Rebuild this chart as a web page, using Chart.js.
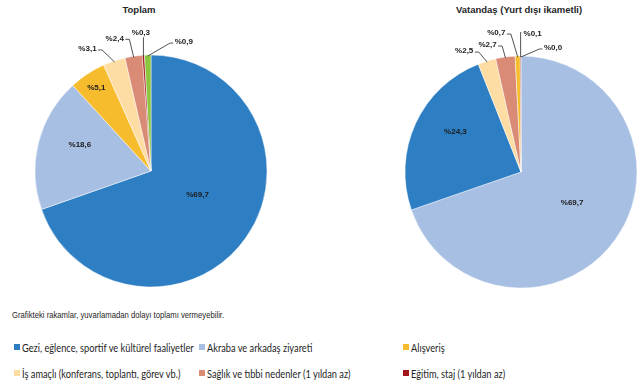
<!DOCTYPE html>
<html><head><meta charset="utf-8">
<script src="https://cdn.jsdelivr.net/npm/chart.js@4"></script>
<style>
html,body{margin:0;padding:0;background:#fff;}
body{width:641px;height:380px;overflow:hidden;position:relative;font-family:"Liberation Sans",Arial,sans-serif;}
canvas{position:absolute;}
.title{position:absolute;font-weight:bold;font-size:9.5px;color:#262626;transform:translateX(-50%);white-space:nowrap;line-height:1;}
.note{position:absolute;left:12px;top:311px;font-size:9px;color:#262626;white-space:nowrap;line-height:1;transform:scaleX(0.855);transform-origin:0 0;}
.leg{position:absolute;white-space:nowrap;line-height:1;}
.leg i{position:absolute;left:-8px;top:50%;width:6px;height:6px;margin-top:-3px;}
.leg span{display:inline-block;font-family:Lato,"Open Sans",sans-serif;font-size:10.5px;color:#262626;transform:scaleX(0.88);transform-origin:0 50%;}
</style>
</head><body>
<div class="title" style="left:139px;top:5px;">Toplam</div>
<div class="title" style="left:519px;top:5px;">Vatandaş (Yurt dışı ikametli)</div>
<canvas id="c1" width="310" height="300" style="left:0;top:0;"></canvas>
<canvas id="c2" width="321" height="300" style="left:320px;top:0;"></canvas>
<div class="note">Grafikteki rakamlar, yuvarlamadan dolayı toplamı vermeyebilir.</div>
<div id="legend"></div>
<script>
const categories = [
  "Gezi, eğlence, sportif ve kültürel faaliyetler",
  "Akraba ve arkadaş ziyareti",
  "Alışveriş",
  "İş amaçlı (konferans, toplantı, görev vb.)",
  "Sağlık ve tıbbi nedenler (1 yıldan az)",
  "Eğitim, staj (1 yıldan az)",
  "Diğer"
];
const toplamOrder = [0, 1, 2, 3, 4, 5, 6];
const toplamValues = [69.7, 18.6, 5.1, 3.1, 2.4, 0.3, 0.9];
const vatandasOrder = [1, 0, 3, 4, 2, 5, 6];
const vatandasValues = [69.7, 24.3, 2.5, 2.7, 0.7, 0.1, 0.0];
const legendCategories = [0, 1, 2, 3, 4, 5];

const categoryColors = ["#2E7EC3", "#A7BFE3", "#F7BC2E", "#FDDDA3", "#D98B76", "#A3151A", "#8CC63F"];

// label placement styles (relative to slice geometry)
const toplamLabelStyle = [
  {mode:"in", f:0.45, dx:4, dy:-6},
  {mode:"in", f:0.65, dx:2, dy:-8},
  {mode:"in", f:0.86, dx:0, dy:0},
  {mode:"out", dx:-27, dy:-13, side:"left"},
  {mode:"out", dx:-19, dy:-19, side:"left"},
  {mode:"out", dx:-2.5, dy:-23, side:"below"},
  {mode:"out", dx:36, dy:-14, side:"right"}
];
const vatandasLabelStyle = [
  {mode:"in", f:0.52, dx:2, dy:-4},
  {mode:"in", f:0.66, dx:4, dy:-8},
  {mode:"out", dx:-23, dy:-11, side:"left"},
  {mode:"out", dx:-18, dy:-13, side:"left"},
  {mode:"out", dx:-21.5, dy:-24, side:"left"},
  {mode:"out", dx:12, dy:-23, side:"vert"},
  {mode:"out", dx:32, dy:-9, side:"right"}
];

function fmt(v){ return "%" + v.toFixed(1).replace(".", ","); }

const labelPlugin = {
  id: "sliceLabels",
  afterDatasetsDraw(chart, args, opts) {
    const ctx = chart.ctx;
    const meta = chart.getDatasetMeta(0);
    const values = chart.data.datasets[0].data;
    const styles = opts.styles;
    ctx.save();
    ctx.font = "bold 8px 'Liberation Sans', Arial, sans-serif";
    ctx.textAlign = "center";
    ctx.textBaseline = "middle";
    meta.data.forEach((arc, i) => {
      const st = styles[i];
      const p = arc.getProps(["x","y","startAngle","endAngle","outerRadius"], true);
      const mid = (p.startAngle + p.endAngle) / 2;
      const cx = Math.cos(mid), sy = Math.sin(mid);
      const txt = fmt(values[i]);
      if (st.mode === "in") {
        const r = p.outerRadius * st.f;
        ctx.fillStyle = "#1a1a1a";
        ctx.fillText(txt, p.x + cx * r + st.dx, p.y + sy * r + st.dy);
      } else {
        const P = {x: p.x + cx * (p.outerRadius - 1), y: p.y + sy * (p.outerRadius - 1)};
        const L = {x: P.x + st.dx, y: P.y + st.dy};
        const w = ctx.measureText(txt).width;
        ctx.strokeStyle = "#404040";
        ctx.lineWidth = 0.9;
        ctx.beginPath();
        if (st.side === "left") {
          const E = {x: L.x + w / 2 + 1.5, y: L.y + 1};
          ctx.moveTo(E.x, E.y); ctx.lineTo(E.x + 4, E.y); ctx.lineTo(P.x, P.y);
        } else if (st.side === "right") {
          const E = {x: L.x - w / 2 - 1.5, y: L.y + 1};
          ctx.moveTo(E.x, E.y); ctx.lineTo(E.x - 3, E.y); ctx.lineTo(P.x, P.y);
        } else if (st.side === "vert") {
          ctx.moveTo(P.x, L.y - 2); ctx.lineTo(P.x, P.y);
        } else {
          ctx.moveTo(P.x, L.y + 4); ctx.lineTo(P.x, P.y);
        }
        ctx.stroke();
        ctx.fillStyle = "#1a1a1a";
        ctx.fillText(txt, L.x, L.y);
      }
    });
    ctx.restore();
  }
};

function makePie(id, order, values, styles, pad) {
  return new Chart(document.getElementById(id), {
    type: "pie",
    data: {
      labels: order.map(k => categories[k]),
      datasets: [{
        data: values,
        backgroundColor: order.map(k => categoryColors[k]),
        borderColor: "rgba(255,255,255,0.8)",
        borderWidth: 0.6
      }]
    },
    options: {
      responsive: false,
      animation: false,
      radius: 116,
      layout: {padding: pad},
      plugins: {
        legend: {display: false},
        tooltip: {enabled: false},
        sliceLabels: {styles: styles}
      }
    },
    plugins: [labelPlugin]
  });
}

makePie("c1", toplamOrder, toplamValues, toplamLabelStyle, {left:0, right:8, top:42, bottom:0});
makePie("c2", vatandasOrder, vatandasValues, vatandasLabelStyle, {left:81, right:0, top:44, bottom:0});

// HTML legend
const legendPos = [
  {x:22, y:346}, {x:207, y:346}, {x:411, y:346},
  {x:22, y:372}, {x:207, y:372}, {x:411, y:372}
];
const legendEl = document.getElementById("legend");
legendCategories.forEach((k, i) => {
  const d = document.createElement("div");
  d.className = "leg";
  d.style.left = legendPos[i].x + "px";
  d.style.top = (legendPos[i].y - 7) + "px";
  d.innerHTML = '<i style="background:' + categoryColors[k] + '"></i><span>' + categories[k] + '</span>';
  legendEl.appendChild(d);
});
</script>
</body></html>
